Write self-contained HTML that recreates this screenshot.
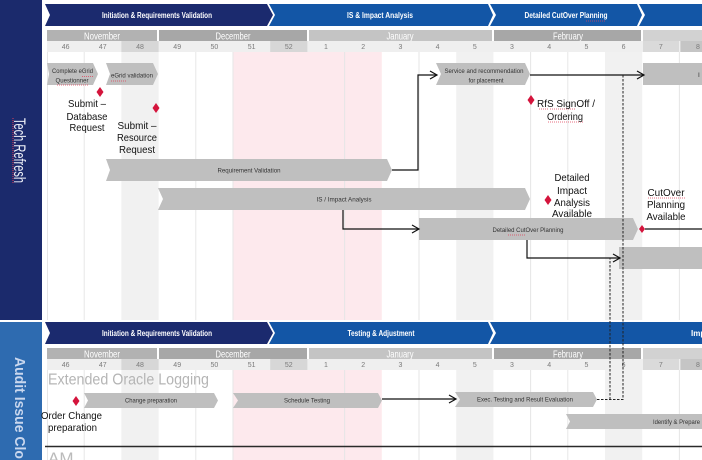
<!DOCTYPE html>
<html><head><meta charset="utf-8"><style>
html,body{margin:0;padding:0;background:#fff;width:702px;height:460px;overflow:hidden}
svg{display:block;overflow:hidden}
text{font-family:"Liberation Sans",Arial,sans-serif}
</style></head><body>
<svg width="702" height="460" viewBox="0 0 702 460" xmlns="http://www.w3.org/2000/svg">
<defs><clipPath id="frame"><rect x="0" y="0" width="702" height="460"/></clipPath></defs>
<g clip-path="url(#frame)">
<rect x="0" y="0" width="702" height="460" fill="#fff"/>

<!-- ===== Sidebars ===== -->
<rect x="0" y="0" width="42" height="320" fill="#1b2a6c"/>
<rect x="0" y="322" width="42" height="138" fill="#2e6bb0"/>
<text transform="translate(14,118) rotate(90)" font-size="17" fill="#eef0f8" textLength="65" lengthAdjust="spacingAndGlyphs">Tech.Refresh</text>
<path d="M13 118 V183" stroke="#e0405a" stroke-width="1" stroke-dasharray="1,1"/>
<text transform="translate(15,357) rotate(90)" font-size="15" font-weight="bold" fill="#c9d7ee" textLength="102" lengthAdjust="spacingAndGlyphs">Audit Issue Clo</text>

<!-- ===== TOP PANEL ===== -->
<rect x="121.4" y="52" width="37.2" height="268" fill="#f1f1f1"/>
<rect x="233" y="52" width="148.8" height="268" fill="#fde9ed"/>
<rect x="456.2" y="52" width="37.2" height="268" fill="#f1f1f1"/>
<rect x="605" y="52" width="37.2" height="268" fill="#f1f1f1"/>
<g stroke="#e6e6e6" stroke-width="1">
<path d="M47.5 52V320M84.2 52V320M195.8 52V320M233 52V320M344.6 52V320M419 52V320M530.6 52V320M567.8 52V320M679.4 52V320"/>
</g>

<polygon points="45,4 267,4 273,15 267,26 45,26 50,15" fill="#1b2a6e"/>
<polygon points="269,4 488,4 493,15 488,26 269,26 275,15" fill="#1356a6"/>
<polygon points="490,4 637,4 642,15 637,26 490,26 496,15" fill="#1356a6"/>
<polygon points="639,4 702,4 702,26 639,26 645,15" fill="#1356a6"/>
<text x="157" y="18" font-size="8" font-weight="bold" fill="#fff" text-anchor="middle" textLength="110" lengthAdjust="spacingAndGlyphs">Initiation &amp; Requirements Validation</text>
<text x="380" y="18" font-size="8" font-weight="bold" fill="#fff" text-anchor="middle" textLength="66" lengthAdjust="spacingAndGlyphs">IS &amp; Impact Analysis</text>
<text x="566" y="18" font-size="8" font-weight="bold" fill="#fff" text-anchor="middle" textLength="83" lengthAdjust="spacingAndGlyphs">Detailed CutOver Planning</text>

<rect x="47" y="30" width="110" height="11" fill="#b2b2b2"/>
<rect x="159" y="30" width="148" height="11" fill="#a7a7a7"/>
<rect x="309" y="30" width="183" height="11" fill="#c4c4c4"/>
<rect x="494" y="30" width="147" height="11" fill="#a7a7a7"/>
<rect x="643" y="30" width="59" height="11" fill="#d2d2d2"/>
<g font-size="10.5" fill="#fff" text-anchor="middle">
<text x="102" y="39.5" textLength="36" lengthAdjust="spacingAndGlyphs">November</text>
<text x="233" y="39.5" textLength="35" lengthAdjust="spacingAndGlyphs">December</text>
<text x="400" y="39.5" textLength="27" lengthAdjust="spacingAndGlyphs">January</text>
<text x="568" y="39.5" textLength="30" lengthAdjust="spacingAndGlyphs">February</text>
</g>
<rect x="47" y="41" width="655" height="11" fill="#efefef"/>
<rect x="121.4" y="41" width="37.2" height="11" fill="#d7d7d7"/>
<rect x="270.2" y="41" width="37.2" height="11" fill="#d7d7d7"/>
<rect x="643" y="41" width="36" height="11" fill="#dadada"/>
<rect x="680.4" y="41" width="22" height="11" fill="#c5c5c5"/>
<g font-size="7" fill="#7a7a7a" text-anchor="middle">
<text x="65.6" y="49">46</text><text x="102.8" y="49">47</text><text x="140" y="49">48</text><text x="177.2" y="49">49</text><text x="214.4" y="49">50</text><text x="251.6" y="49">51</text><text x="288.8" y="49">52</text><text x="326" y="49">1</text><text x="363.2" y="49">2</text><text x="400.4" y="49">3</text><text x="437.6" y="49">4</text><text x="474.8" y="49">5</text><text x="512" y="49">3</text><text x="549.2" y="49">4</text><text x="586.4" y="49">5</text><text x="623.6" y="49">6</text><text x="660.8" y="49">7</text><text x="698" y="49">8</text>
</g>

<g fill="#bfbfbf">
<polygon points="47,63 93,63 98,74 93,85 47,85 49,74"/>
<polygon points="106,63 153,63 158,74 153,85 106,85 110,74"/>
<polygon points="436,63 525,63 530,74 525,85 436,85 441,74"/>
<polygon points="643,63 702,63 702,85 643,85"/>
<polygon points="106,159 387,159 392,170 387,181 106,181 110,170"/>
<polygon points="158,188 525,188 530,199 525,210 158,210 163,199"/>
<polygon points="419,218 633,218 638,229 633,240 419,240"/>
<polygon points="619,247 702,247 702,269 619,269"/>
</g>
<g font-size="6.5" fill="#333" text-anchor="middle">
<text x="72.5" y="73" textLength="41" lengthAdjust="spacingAndGlyphs">Complete eGrid</text>
<text x="72" y="82.5" textLength="33" lengthAdjust="spacingAndGlyphs">Questionner</text>
<text x="132" y="77.5" textLength="42" lengthAdjust="spacingAndGlyphs">eGrid validation</text>
<text x="484" y="73" textLength="79" lengthAdjust="spacingAndGlyphs">Service  and recommendation</text>
<text x="486" y="82.5" textLength="35" lengthAdjust="spacingAndGlyphs">for  placement</text>
<text x="249" y="172.5" textLength="63" lengthAdjust="spacingAndGlyphs">Requirement Validation</text>
<text x="344" y="201.5" textLength="55" lengthAdjust="spacingAndGlyphs">IS  / Impact Analysis</text>
<text x="528" y="232" textLength="71" lengthAdjust="spacingAndGlyphs">Detailed CutOver Planning</text>
</g>
<text x="698" y="77" font-size="6.5" fill="#333">I</text>
<g stroke="#e0405a" stroke-width="0.8" stroke-dasharray="1,1" fill="none">
<path d="M82 76.5H94M57 85H88M111 81H126M539 109H548M550 109H576M548 122H583M648 198H685M508 235H525M586 21H606"/>
</g>

<g fill="#d4143c">
<polygon points="100,87 103.5,92 100,97 96.5,92"/>
<polygon points="156,103 159.5,108 156,113 152.5,108"/>
<polygon points="531,95 534.5,100 531,105 527.5,100"/>
<polygon points="548,195 551.5,200 548,205 544.5,200"/>
<polygon points="642,225 645,229 642,233 639,229"/>
<polygon points="76,396 79.5,401 76,406 72.5,401"/>
</g>
<g font-size="10.5" fill="#111" text-anchor="middle">
<text x="87" y="107" textLength="38" lengthAdjust="spacingAndGlyphs">Submit –</text>
<text x="87" y="120" textLength="41" lengthAdjust="spacingAndGlyphs">Database</text>
<text x="87" y="131" textLength="35" lengthAdjust="spacingAndGlyphs">Request</text>
<text x="137" y="129" textLength="39" lengthAdjust="spacingAndGlyphs">Submit –</text>
<text x="137" y="141" textLength="40" lengthAdjust="spacingAndGlyphs">Resource</text>
<text x="137" y="153" textLength="36" lengthAdjust="spacingAndGlyphs">Request</text>
<text x="566" y="107" textLength="58" lengthAdjust="spacingAndGlyphs">RfS SignOff /</text>
<text x="565" y="120" textLength="36" lengthAdjust="spacingAndGlyphs">Ordering</text>
<text x="572" y="181" textLength="35" lengthAdjust="spacingAndGlyphs">Detailed</text>
<text x="572" y="194" textLength="30" lengthAdjust="spacingAndGlyphs">Impact</text>
<text x="572" y="206" textLength="36" lengthAdjust="spacingAndGlyphs">Analysis</text>
<text x="572" y="217" textLength="40" lengthAdjust="spacingAndGlyphs">Available</text>
<text x="666" y="196" textLength="37" lengthAdjust="spacingAndGlyphs">CutOver</text>
<text x="666" y="208" textLength="38" lengthAdjust="spacingAndGlyphs">Planning</text>
<text x="666" y="220" textLength="39" lengthAdjust="spacingAndGlyphs">Available</text>
</g>

<g stroke="#111" stroke-width="1.2" fill="none">
<path d="M392 170H418V75H437"/>
<path d="M430 71L437 75L430 79"/>
<path d="M530 75H644"/>
<path d="M637 71L644 75L637 79"/>
<path d="M343 210V229H419"/>
<path d="M412 225L419 229L412 233"/>
<path d="M527 240V258H620"/>
<path d="M613 254L620 258L613 262"/>
<path d="M702 229H645"/>
</g>

<!-- ===== BOTTOM PANEL ===== -->
<rect x="121.4" y="370" width="37.2" height="90" fill="#f1f1f1"/>
<rect x="233" y="370" width="148.8" height="90" fill="#fde9ed"/>
<rect x="456.2" y="370" width="37.2" height="90" fill="#f1f1f1"/>
<rect x="605" y="370" width="37.2" height="90" fill="#f1f1f1"/>
<g stroke="#e6e6e6" stroke-width="1">
<path d="M47.5 370V460M84.2 370V460M195.8 370V460M233 370V460M344.6 370V460M419 370V460M530.6 370V460M567.8 370V460M679.4 370V460"/>
</g>

<polygon points="45,322 267,322 273,333 267,344 45,344 50,333" fill="#1b2a6e"/>
<polygon points="269,322 488,322 493,333 488,344 269,344 275,333" fill="#1356a6"/>
<polygon points="490,322 702,322 702,344 490,344 496,333" fill="#1356a6"/>
<text x="157" y="336" font-size="8" font-weight="bold" fill="#fff" text-anchor="middle" textLength="110" lengthAdjust="spacingAndGlyphs">Initiation &amp; Requirements Validation</text>
<text x="381" y="336" font-size="8" font-weight="bold" fill="#fff" text-anchor="middle" textLength="67" lengthAdjust="spacingAndGlyphs">Testing &amp; Adjustment</text>
<text x="691" y="336" font-size="8" font-weight="bold" fill="#fff">Imp</text>

<rect x="47" y="348" width="110" height="11" fill="#b2b2b2"/>
<rect x="159" y="348" width="148" height="11" fill="#a7a7a7"/>
<rect x="309" y="348" width="183" height="11" fill="#c4c4c4"/>
<rect x="494" y="348" width="147" height="11" fill="#a7a7a7"/>
<rect x="643" y="348" width="59" height="11" fill="#d2d2d2"/>
<g font-size="10.5" fill="#fff" text-anchor="middle">
<text x="102" y="357.5" textLength="36" lengthAdjust="spacingAndGlyphs">November</text>
<text x="233" y="357.5" textLength="35" lengthAdjust="spacingAndGlyphs">December</text>
<text x="400" y="357.5" textLength="27" lengthAdjust="spacingAndGlyphs">January</text>
<text x="568" y="357.5" textLength="30" lengthAdjust="spacingAndGlyphs">February</text>
</g>
<rect x="47" y="359" width="655" height="11" fill="#efefef"/>
<rect x="121.4" y="359" width="37.2" height="11" fill="#d7d7d7"/>
<rect x="270.2" y="359" width="37.2" height="11" fill="#d7d7d7"/>
<rect x="643" y="359" width="36" height="11" fill="#dadada"/>
<rect x="680.4" y="359" width="22" height="11" fill="#c5c5c5"/>
<g font-size="7" fill="#7a7a7a" text-anchor="middle">
<text x="65.6" y="367">46</text><text x="102.8" y="367">47</text><text x="140" y="367">48</text><text x="177.2" y="367">49</text><text x="214.4" y="367">50</text><text x="251.6" y="367">51</text><text x="288.8" y="367">52</text><text x="326" y="367">1</text><text x="363.2" y="367">2</text><text x="400.4" y="367">3</text><text x="437.6" y="367">4</text><text x="474.8" y="367">5</text><text x="512" y="367">3</text><text x="549.2" y="367">4</text><text x="586.4" y="367">5</text><text x="623.6" y="367">6</text><text x="660.8" y="367">7</text><text x="698" y="367">8</text>
</g>

<text x="48" y="384.5" font-size="15.5" fill="#b5b5b5" textLength="161" lengthAdjust="spacingAndGlyphs">Extended Oracle Logging</text>

<g fill="#bfbfbf">
<polygon points="84,393 214,393 218,400.5 214,408 84,408 88,400.5"/>
<polygon points="233,393 378,393 382,400.5 378,408 233,408 238,400.5"/>
<polygon points="455,392 593,392 597,399.5 593,407 455,407 460,399.5"/>
<polygon points="566,414 702,414 702,429 566,429 570,421.5"/>
</g>
<g font-size="6.5" fill="#333" text-anchor="middle">
<text x="151" y="402.5" textLength="52" lengthAdjust="spacingAndGlyphs">Change preparation</text>
<text x="307" y="402.5" textLength="46" lengthAdjust="spacingAndGlyphs">Schedule Testing</text>
<text x="525" y="401.5" textLength="96" lengthAdjust="spacingAndGlyphs">Exec. Testing and Result Evaluation</text>
</g>
<text x="653" y="424" font-size="6.5" fill="#333" textLength="47" lengthAdjust="spacingAndGlyphs">Identify &amp; Prepare</text>

<g font-size="10.5" fill="#111" text-anchor="middle">
<text x="71.5" y="419" textLength="61" lengthAdjust="spacingAndGlyphs">Order Change</text>
<text x="72.5" y="431" textLength="49" lengthAdjust="spacingAndGlyphs">preparation</text>
</g>

<g stroke="#111" stroke-width="1.2" fill="none">
<path d="M382 399H456"/>
<path d="M449 395L456 399L449 403"/>
</g>
<g stroke="#222" stroke-width="1" fill="none" stroke-dasharray="2.5,1.5">
<path d="M597 399.5H623V75"/>
<path d="M610 399.5V258"/>
</g>

<path d="M45 446.5H702" stroke="#2a2a2a" stroke-width="1.6"/>
<svg x="45" y="450" width="40" height="10" overflow="hidden"><text x="3" y="14" font-size="17" fill="#bbbbbb">AM</text></svg>
</g>
</svg>
</body></html>
